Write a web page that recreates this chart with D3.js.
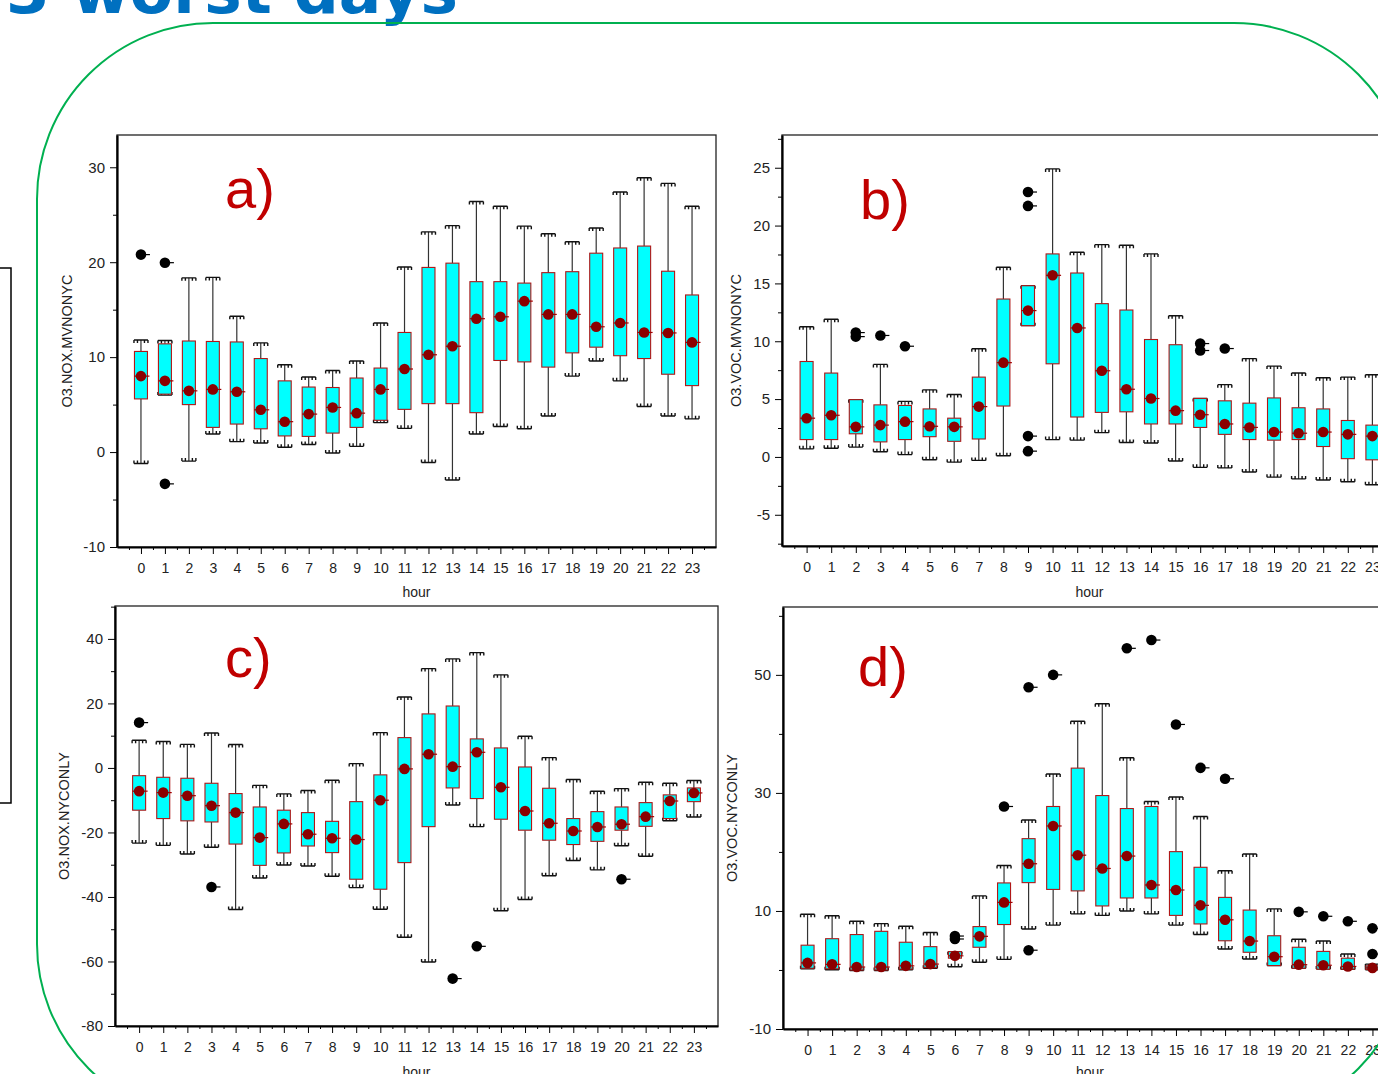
<!DOCTYPE html>
<html>
<head>
<meta charset="utf-8">
<script src="https://cdn.jsdelivr.net/npm/d3@7"></script>
<style>
  html, body { margin: 0; padding: 0; background: #fff; }
  svg { display: block; font-family: "Liberation Sans", Arial, sans-serif; }
</style>
</head>
<body>
<svg id="chart" width="1378" height="1074"></svg>
<script>
// hours on the x axis
const hours = d3.range(24);

// a) O3.NOX.MVNONYC
const aHigh = [11.8, 11.75, 18.35, 18.4, 14.3, 11.5, 9.2, 7.9, 8.6, 9.6, 13.6, 19.5, 23.2, 23.85, 26.4, 25.9, 23.8, 23.0, 22.15, 23.6, 27.4, 28.9, 28.3, 25.9];
const aQ3   = [10.6, 11.4, 11.7, 11.65, 11.6, 9.85, 7.5, 6.85, 6.8, 7.8, 8.85, 12.6, 19.45, 19.9, 17.95, 17.95, 17.8, 18.9, 19.0, 20.95, 21.5, 21.7, 19.05, 16.55];
const aMed  = [8.0, 7.5, 6.45, 6.6, 6.35, 4.45, 3.2, 4.0, 4.7, 4.1, 6.6, 8.75, 10.25, 11.15, 14.05, 14.25, 15.9, 14.5, 14.5, 13.2, 13.6, 12.6, 12.55, 11.55];
const aQ1   = [5.6, 6.1, 5.0, 2.6, 2.95, 2.45, 1.7, 1.65, 2.0, 2.6, 3.35, 4.5, 5.1, 5.1, 4.15, 9.65, 9.5, 8.95, 10.45, 11.05, 10.15, 9.85, 8.2, 7.0];
const aLow  = [-1.2, 6.0, -0.95, 1.9, 1.1, 0.95, 0.5, 0.8, -0.1, 0.6, 3.1, 2.5, -1.1, -2.95, 1.9, 2.7, 2.45, 3.8, 8.0, 9.6, 7.5, 4.8, 3.8, 3.5];
const aOut  = [[0, 20.8], [1, 19.95], [1, -3.35]];
const aTicks = [-10, 0, 10, 20, 30];

// b) O3.VOC.MVNONYC
const bHigh = [11.25, 11.9, 4.95, 8.0, 4.8, 5.8, 5.4, 9.35, 16.4, 14.8, 24.9, 17.7, 18.35, 18.3, 17.55, 12.2, 5.05, 6.25, 8.5, 7.85, 7.25, 6.85, 6.9, 7.1];
const bQ3   = [8.25, 7.25, 4.95, 4.5, 4.45, 4.15, 3.35, 6.9, 13.65, 14.8, 17.55, 15.9, 13.25, 12.7, 10.15, 9.7, 5.05, 4.85, 4.65, 5.1, 4.25, 4.15, 3.15, 2.75];
const bMed  = [3.35, 3.6, 2.6, 2.75, 3.05, 2.65, 2.6, 4.35, 8.15, 12.65, 15.7, 11.15, 7.45, 5.85, 5.05, 4.0, 3.65, 2.85, 2.55, 2.15, 2.05, 2.15, 1.95, 1.8];
const bQ1   = [1.5, 1.5, 2.0, 1.3, 1.5, 1.75, 1.35, 1.55, 4.4, 11.35, 8.05, 3.45, 3.85, 3.9, 2.85, 2.85, 2.55, 1.95, 1.5, 1.45, 1.5, 0.9, -0.15, -0.25];
const bLow  = [0.7, 0.75, 0.85, 0.45, 0.2, -0.25, -0.45, -0.3, 0.1, 11.35, 1.5, 1.45, 2.1, 1.25, 1.2, -0.35, -0.9, -0.95, -1.3, -1.75, -1.9, -2.0, -2.15, -2.4];
const bOut  = [[2, 10.75], [2, 10.4], [3, 10.5], [4, 9.57], [9, 22.9], [9, 21.7], [9, 1.8], [9, 0.5], [16, 9.8], [16, 9.2], [17, 9.37]];
const bTicks = [-5, 0, 5, 10, 15, 20, 25];

// c) O3.NOX.NYCONLY
const cHigh = [8.6, 8.2, 7.3, 10.85, 7.25, -5.4, -8.05, -7.0, -3.8, 1.35, 10.95, 22.0, 30.8, 33.8, 35.75, 28.85, 9.8, 3.2, -3.6, -7.25, -6.4, -4.45, -4.75, -3.9];
const cQ3   = [-2.4, -2.9, -3.2, -4.75, -7.95, -12.1, -13.1, -13.85, -16.55, -10.45, -2.15, 9.4, 16.75, 19.2, 9.0, 6.2, 0.3, -6.3, -15.7, -13.55, -12.1, -10.75, -8.35, -6.2];
const cMed  = [-7.2, -7.65, -8.6, -11.7, -13.85, -21.6, -17.35, -20.55, -21.8, -22.2, -10.0, -0.3, 4.25, 0.4, 4.85, -6.0, -13.35, -17.15, -19.55, -18.3, -17.45, -15.1, -10.25, -7.75];
const cQ1   = [-13.1, -15.7, -16.4, -16.75, -23.6, -30.2, -26.35, -24.2, -26.25, -34.5, -37.6, -29.35, -18.2, -6.2, -9.5, -15.9, -19.3, -22.4, -23.75, -22.75, -19.3, -18.1, -15.7, -10.45];
const cLow  = [-23.3, -24.0, -26.7, -24.6, -43.9, -34.1, -30.1, -30.4, -33.6, -37.1, -43.8, -52.5, -60.15, -11.5, -18.2, -44.25, -40.8, -33.4, -28.7, -31.6, -24.1, -27.4, -16.35, -15.2];
const cOut  = [[0, 14.05], [3, -36.9], [13, -65.3], [14, -55.3], [20, -34.5]];
const cTicks = [-80, -60, -40, -20, 0, 20, 40];

// d) O3.VOC.NYCONLY
const dHigh = [9.45, 9.2, 8.25, 7.85, 7.4, 6.35, 3.1, 12.55, 17.7, 25.4, 33.2, 42.15, 45.1, 35.95, 28.55, 29.3, 26.0, 16.8, 19.65, 10.35, 5.2, 4.9, 2.7, 1.0];
const dQ3   = [4.2, 5.3, 6.0, 6.55, 4.7, 3.95, 3.1, 7.35, 14.75, 22.25, 27.7, 34.2, 29.55, 27.35, 27.7, 20.05, 17.4, 12.3, 10.15, 5.8, 3.85, 3.15, 2.0, 0.7];
const dMed  = [1.2, 0.95, 0.5, 0.5, 0.7, 1.0, 2.4, 5.7, 11.45, 18.0, 24.4, 19.45, 17.2, 19.3, 14.4, 13.55, 10.95, 8.5, 4.9, 2.25, 0.9, 0.8, 0.6, 0.35];
const dQ1   = [0.3, 0.2, 0.0, 0.0, 0.15, 0.4, 2.0, 3.85, 7.7, 14.8, 13.65, 13.4, 10.85, 12.2, 12.2, 9.25, 7.8, 4.95, 3.0, 0.75, 0.3, 0.15, 0.15, 0.1];
const dLow  = [0.2, 0.05, -0.1, -0.1, 0.05, 0.3, 0.55, 1.3, 1.8, 6.95, 7.6, 9.5, 9.25, 10.0, 9.5, 7.6, 6.0, 3.55, 1.85, 0.75, 0.3, 0.15, 0.1, 0.05];
const dOut  = [[6, 5.75], [6, 5.25], [8, 27.7], [9, 47.9], [9, 3.35], [10, 50.0], [13, 54.5], [14, 55.9], [15, 41.6], [16, 34.25], [17, 32.4], [20, 9.85], [21, 9.1], [22, 8.25], [23, 7.05], [23, 2.7]];
const dTicks = [-10, 10, 30, 50];

// panel layout (pixel frame of each plot)
const panels = [
  { tag: 'a)', ylab: 'O3.NOX.MVNONYC', lo: aLow, q1: aQ1, med: aMed, q3: aQ3, hi: aHigh, out: aOut, ticks: aTicks, minorStep: 5,
    left: 117, right: 716, top: 135, bottom: 547, yDomain: [-10, 33.4], tagX: 225, tagY: 208, ylabX: 72, xlabY: 597 },
  { tag: 'b)', ylab: 'O3.VOC.MVNONYC', lo: bLow, q1: bQ1, med: bMed, q3: bQ3, hi: bHigh, out: bOut, ticks: bTicks, minorStep: 2.5,
    left: 782, right: 1397, top: 135, bottom: 546, yDomain: [-7.7, 27.83], tagX: 860, tagY: 219, ylabX: 741, xlabY: 597 },
  { tag: 'c)', ylab: 'O3.NOX.NYCONLY', lo: cLow, q1: cQ1, med: cMed, q3: cQ3, hi: cHigh, out: cOut, ticks: cTicks, minorStep: 10,
    left: 115, right: 718, top: 606, bottom: 1026, yDomain: [-80, 50.2], tagX: 225, tagY: 677, ylabX: 69, xlabY: 1077 },
  { tag: 'd)', ylab: 'O3.VOC.NYCONLY', lo: dLow, q1: dQ1, med: dMed, q3: dQ3, hi: dHigh, out: dOut, ticks: dTicks, minorStep: 10,
    left: 783, right: 1397, top: 607, bottom: 1029, yDomain: [-10, 61.5], tagX: 858, tagY: 686, ylabX: 737, xlabY: 1077 }
];

const svg = d3.select('#chart');
const plain = d => String(d);   // hyphen minus like the original, not the unicode one

// slide title, mostly cut off at the top
svg.append('text')
  .attr('x', 458)
  .attr('y', 12.5)
  .attr('text-anchor', 'end')
  .attr('font-family', '"DejaVu Sans", Verdana, sans-serif')
  .attr('font-weight', 'bold')
  .attr('font-size', 63)
  .attr('fill', '#0070C0')
  .text('3 worst days');

// black frame at far left
svg.append('path')
  .attr('d', 'M0,268 L11,268 L11,803 L0,803')
  .attr('fill', 'none')
  .attr('stroke', '#000')
  .attr('stroke-width', 1.5);

panels.forEach(p => {
  const x = d3.scaleLinear().domain([-1, 24]).range([p.left, p.right]);
  const y = d3.scaleLinear().domain(p.yDomain).range([p.bottom, p.top]);
  const g = svg.append('g');

  // frame
  g.append('rect')
    .attr('x', p.left).attr('y', p.top)
    .attr('width', p.right - p.left).attr('height', p.bottom - p.top)
    .attr('fill', '#fff')
    .attr('stroke', '#222')
    .attr('stroke-width', 1.3);

  // y axis, major + minor ticks
  const minor = d3.range(Math.ceil(p.yDomain[0] / p.minorStep) * p.minorStep, p.yDomain[1], p.minorStep)
    .filter(v => !p.ticks.includes(v));
  g.append('g')
    .attr('transform', `translate(${p.left},0)`)
    .call(d3.axisLeft(y).tickValues(minor).tickSize(4).tickFormat(''))
    .call(s => s.select('.domain').remove());
  const yAx = g.append('g')
    .attr('transform', `translate(${p.left},0)`)
    .call(d3.axisLeft(y).tickValues(p.ticks).tickSize(7).tickPadding(5).tickFormat(plain).tickSizeOuter(0));
  yAx.select('.domain').attr('stroke-width', 2.2);
  yAx.selectAll('text').attr('font-size', 15).attr('fill', '#222')
    .attr('font-family', '"Liberation Sans", Arial, sans-serif');

  // x axis, hours + half hour ticks
  g.append('g')
    .attr('transform', `translate(0,${p.bottom})`)
    .call(d3.axisBottom(x).tickValues(d3.range(-0.5, 24, 1)).tickSize(3).tickFormat(''))
    .call(s => s.select('.domain').remove());
  const xAx = g.append('g')
    .attr('transform', `translate(0,${p.bottom})`)
    .call(d3.axisBottom(x).tickValues(hours).tickSize(7).tickPadding(9).tickFormat(plain).tickSizeOuter(0));
  xAx.select('.domain').attr('stroke-width', 2.2);
  xAx.selectAll('text').attr('font-size', 14).attr('fill', '#222')
    .attr('font-family', '"Liberation Sans", Arial, sans-serif');

  // axis titles
  g.append('text')
    .attr('x', (p.left + p.right) / 2)
    .attr('y', p.xlabY)
    .attr('text-anchor', 'middle')
    .attr('font-size', 14)
    .attr('fill', '#222')
    .text('hour');
  g.append('text')
    .attr('transform', `translate(${p.ylabX},${(p.top + p.bottom) / 2}) rotate(-90)`)
    .attr('text-anchor', 'middle')
    .attr('font-size', 14.5)
    .attr('fill', '#222')
    .text(p.ylab);

  // panel tag
  g.append('text')
    .attr('x', p.tagX)
    .attr('y', p.tagY)
    .attr('font-size', 56)
    .attr('fill', '#C00000')
    .text(p.tag);

  // boxes
  const bw = 6.5, cw = 7;
  const box = g.append('g').selectAll('g')
    .data(hours)
    .join('g');

  // whiskers
  box.append('line')
    .attr('x1', h => x(h)).attr('x2', h => x(h))
    .attr('y1', h => y(p.hi[h])).attr('y2', h => y(p.q3[h]))
    .attr('stroke', '#333').attr('stroke-width', 1.2);
  box.append('line')
    .attr('x1', h => x(h)).attr('x2', h => x(h))
    .attr('y1', h => y(p.q1[h])).attr('y2', h => y(p.lo[h]))
    .attr('stroke', '#333').attr('stroke-width', 1.2);

  // whisker caps with little legs pointing to the box
  const cap = (val, dir) => h => {
    const cx = x(h), cy = y(val[h]);
    let d = `M${cx - cw},${cy}H${cx + cw}`;
    [-cw, -cw / 2, cw / 2, cw].forEach(o => { d += `M${cx + o},${cy}v${dir * 3}`; });
    return d;
  };
  box.append('path').attr('d', cap(p.hi, 1))
    .attr('fill', 'none').attr('stroke', '#111').attr('stroke-width', 1.4);
  box.append('path').attr('d', cap(p.lo, -1))
    .attr('fill', 'none').attr('stroke', '#111').attr('stroke-width', 1.4);

  box.append('rect')
    .attr('x', h => x(h) - bw)
    .attr('y', h => y(p.q3[h]))
    .attr('width', bw * 2)
    .attr('height', h => Math.max(0.5, y(p.q1[h]) - y(p.q3[h])))
    .attr('fill', '#00FFFF')
    .attr('stroke', '#B01818')
    .attr('stroke-width', 1.1);

  // median
  box.append('line')
    .attr('x1', h => x(h) - bw).attr('x2', h => x(h) + bw + 2)
    .attr('y1', h => y(p.med[h])).attr('y2', h => y(p.med[h]))
    .attr('stroke', '#A00000').attr('stroke-width', 1.2);
  box.append('circle')
    .attr('cx', h => x(h))
    .attr('cy', h => y(p.med[h]))
    .attr('r', 5.3)
    .attr('fill', '#8B0000');

  // outliers
  const out = g.append('g').selectAll('g')
    .data(p.out)
    .join('g');
  out.append('line')
    .attr('x1', d => x(d[0])).attr('x2', d => x(d[0]) + 9)
    .attr('y1', d => y(d[1])).attr('y2', d => y(d[1]))
    .attr('stroke', '#000').attr('stroke-width', 1.2);
  out.append('circle')
    .attr('cx', d => x(d[0]))
    .attr('cy', d => y(d[1]))
    .attr('r', 5.3)
    .attr('fill', '#000');
});

// green rounded border of the slide box
const bx0 = 37, by0 = 23, bx1 = 1410, by1 = 1120, rad = 176;
svg.append('path')
  .attr('d', `M${bx0 + rad},${by0} H${bx1 - rad} A${rad},${rad} 0 0 1 ${bx1},${by0 + rad}
    V${by1 - rad} A${rad},${rad} 0 0 1 ${bx1 - rad},${by1} H${bx0 + rad}
    A${rad},${rad} 0 0 1 ${bx0},${by1 - rad} V${by0 + rad} A${rad},${rad} 0 0 1 ${bx0 + rad},${by0} Z`)
  .attr('fill', 'none')
  .attr('stroke', '#00B050')
  .attr('stroke-width', 2);
</script>
</body>
</html>
